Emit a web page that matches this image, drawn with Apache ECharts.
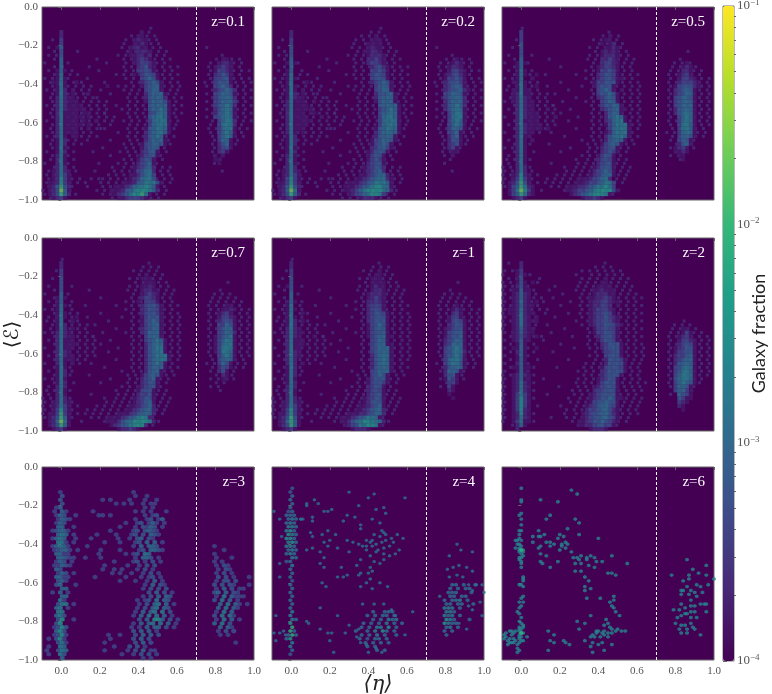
<!DOCTYPE html>
<html>
<head>
<meta charset="utf-8">
<style>
  html, body { margin: 0; background: #fff; }
  #chart { width: 772px; height: 694px; }
</style>
<script src="https://cdn.jsdelivr.net/npm/echarts@6/dist/echarts.min.js"></script>
</head>
<body>
<div id="chart"></div>
<script>
const redshifts = ['z=0.1', 'z=0.2', 'z=0.5', 'z=0.7', 'z=1', 'z=2', 'z=3', 'z=4', 'z=6']
const etaTicks = [0, 0.2, 0.4, 0.6, 0.8, 1.0]
const cutEta = 0.7
const colorbarDecades = [1e-4, 1e-3, 1e-2, 1e-1]
const colorbarMinor = [2e-4, 3e-4, 4e-4, 5e-4, 6e-4, 7e-4, 8e-4, 9e-4, 2e-3, 3e-3, 4e-3, 5e-3, 6e-3, 7e-3, 8e-3, 9e-3, 2e-2, 3e-2, 4e-2, 5e-2, 6e-2, 7e-2, 8e-2, 9e-2]
const colorbarLabels = { '-4': '−4', '-3': '−3', '-2': '−2', '-1': '−1' }
const viridis = ['#440154', '#482878', '#3e4a89', '#31688e', '#26828e', '#1f9e89', '#35b779', '#6ece58', '#b5de2b', '#fde725']

// galaxy fraction for the density digits 1-9 in the rows below
const levelFractions = [0, 1.6e-4, 2.6e-4, 4.6e-4, 8e-4, 1.4e-3, 2.4e-3, 4.5e-3, 9e-3, 2.2e-2]

// one string per row of cells, top to bottom (eps -0.01, -0.03, ...)
// "col:digits": cells start at column col (eta = -0.10 + 0.02 * col), a dot skips a cell
const rowsZ01 = ['', '', '', '', '', '',
  '5:2 26:1', '5:2 25:11', '5:3 24:1211', '5:3 24:1121', '4:15 23:12211', '5:4 23:1 25:2221', '5:4 23:112212',
  '5:5 24:12321 47:11', '5:5 24:123321 46:1221', '5:5 25:23421 45:12321', '4:151 25:33431 45:13321',
  '4:16 24:1 26:34431 45:23431', '4:161 26:34541 45:33441', '3:1161 9:1 26:234541 45:34441', '4:161 17:1 26:134551 45:34542',
  '4:162 8:1 27:34551 45:234542', '4:162 8:1 12:1 27:245551 45:345541', '4:262 7:11 27:245552 45:345552',
  '4:262 7:111 27:1455541 45:345553', '4:262 7:1111 28:455551 45:345652', '4:262 7:11111 28:455651 45:245651',
  '4:261 7:111 11:11 28:345651 45:245651', '4:261 7:1111 12:1 28:456651 45:345651', '4:261 7:111 11:1 14:1 28:356661 46:35662',
  '4:261 7:1111 12:1 28:356661 46:36662', '4:261 7:111 12:1 27:1456651 46:35661', '4:261 7:111 27:2456651 46:35651',
  '4:261 8:11 27:24565 46:35651', '4:162 27:245551 46:3551', '4:162 26:1345541 46:2451', '4:161 26:13454 46:2341',
  '4:162 26:23451 46:231', '4:261 25:123441 45:1 47:1', '4:261 25:13441 45:11', '4:261 25:23451 46:1', '4:262 24:123452',
  '3:12621 24:134562', '3:12631 23:1124563', '3:12731 23:1235664', '2:112731 21:11124566641',
  '2:124842 19:1 20:11235667651', '2:124951 18:1112456777652', '2:124852 18:11234677861', '3:1231 20:11233321']

const rowsZ02 = ['', '', '', '', '', '',
  '5:2', '5:2 27:1', '5:3 26:111', '5:3 25:1111', '5:4 25:1211', '5:4 24:11221', '5:4 25:12221',
  '5:5 25:22321 48:1', '4:151 25:23321 47:121', '5:5 26:23421 46:1221', '4:15 26:33431 46:13321',
  '4:16 26:34431 45:123421', '4:161 26:34441 45:133431', '4:16 9:1 26:234541 45:234431', '4:161 27:34541 45:234541',
  '4:161 8:1 27:34551 45:2344521', '4:162 8:1 27:244551 45:345541', '4:162 7:11 27:245551 45:345552',
  '4:261 7:11 11:1 27:145551 45:245552', '4:261 7:111 28:455551 45:245652', '4:261 7:1111 28:345651 45:245651',
  '4:261 7:11 10:11 28:355651 46:35661', '4:261 7:111 13:1 28:356651 46:35661', '4:261 7:1111 28:356661 46:35651',
  '4:261 7:111 28:356661 46:35651', '4:261 7:11 27:1456651 46:35541', '4:261 8:1 27:2456551 46:3451',
  '4:162 27:245551 46:2451', '4:162 26:1345541 46:2441', '4:162 26:134541 46:2341', '4:161 26:234531 46:231',
  '4:162 25:124441 47:11', '4:261 25:13441 47:1', '4:261 25:13431', '4:261 25:23441', '4:262 24:123442',
  '3:12621 24:123452', '3:12631 23:11234552', '3:13731 22:1123455621', '2:113731 20:111234566651',
  '2:124842 19:1112345677651', '2:125961 19:1123567777652', '2:124852 20:1234567763', '3:1231 23:12221']

const rowsZ05 = ['', '', '', '', '', '',
  '5:3', '5:3 28:1', '5:3 27:11', '5:4 26:1 28:12', '5:4 27:1121', '5:4 26:12121', '5:4 26:12221',
  '5:5 26:22321', '4:151 26:23321 48:1', '4:15 25:123321 47:121', '4:161 25:133431 47:221',
  '4:161 9:1 25:234431 46:1231', '4:16 8:1 25:234431 31:1 46:13321', '3:1161 24:1334441 46:233321',
  '4:161 9:1 24:134441 45:1344421', '3:11611 25:34541 31:1 45:234541', '3:12611 25:344541 45:234551',
  '3:12621 25:234541 45:345541', '3:12621 8:1 26:34551 45:345551', '4:262 7:11 26:344551 45:345551',
  '4:262 7:11 12:1 26:2345511 45:245551', '4:262 7:111 27:24551 45:245651', '4:262 7:111 14:1 27:245651 46:35651',
  '4:261 7:111 27:235661 46:35651', '4:262 7:1111 27:1356661 46:36651', '4:262 7:1111 12:1 28:356661 46:36651',
  '4:262 7:11 27:1256661 46:35651', '4:261 7:1 27:2456651 46:35541', '4:261 8:1 27:245551 46:3541',
  '4:261 26:134541 46:2451', '4:261 26:23441 45:1231', '4:261 26:23431 45:1121', '4:261 25:13441 46:11',
  '4:261 25:23431 47:1', '4:261 25:23441', '4:262 24:124441', '4:262 24:234541', '3:12721 23:1234551',
  '3:13731 20:11 22:1234562', '2:124841 19:11123345663', '2:1358621 17:1112234566763',
  '2:1369731 17:11233456777741', '2:1358621 18:12345677761', '3:1231 21:122321']

const rowsZ07 = ['', '', '', '', '', '',
  '5:2', '5:2', '5:3', '5:3 27:1', '5:4 26:111', '5:4 27:111', '5:4 26:1121', '5:4 26:12211', '5:5 26:12321',
  '4:151 26:23321', '4:15 25:1 27:3331', '4:161 26:234431 48:11', '4:16 26:234431 47:1121', '4:161 26:234431 46:1231',
  '4:161 9:1 26:134441 46:13321', '4:16 8:1 26:134541 46:23431', '4:162 26:134551 46:33541', '4:162 8:1 26:234551 46:34551',
  '4:262 7:1 26:235551 46:34552', '4:262 7:11 27:35551 45:134561', '4:261 7:11 27:345651 45:135661',
  '4:261 7:111 27:245651 45:135661', '4:261 7:11 27:245661 45:136661', '4:262 7:1 27:245661 45:136651',
  '4:262 7:11 27:2456661 46:35651', '4:261 7:11 27:2456661 46:35551', '4:261 8:1 27:245651 46:3541',
  '4:161 27:245551 46:2431', '4:162 27:24551 46:241', '4:162 26:134541 47:21', '4:161 26:23451 47:11', '4:162 26:23441',
  '4:262 25:123441', '4:261 25:13441', '4:261 25:23341', '4:262 24:123441', '3:12621 24:123451', '3:12631 23:1123452',
  '3:13731 22:11234552', '2:113831 20:1112345552', '2:124851 17:11 19:1123456762', '2:125961 17:1112456777762',
  '2:124851 18:1234567772', '3:1231 20:122321']

const rowsZ1 = ['', '', '', '', '', '',
  '5:2', '5:2', '5:3 28:1', '5:3 27:11', '5:4 26:111', '5:4 26:1111', '4:14 26:1211', '5:4 26:1221', '5:5 25:12221',
  '5:5 25:12321', '4:151 25:22321', '4:16 25:23331 48:1', '4:161 25:23431 47:121', '4:16 8:1 25:234431 47:231',
  '4:161 25:234441 46:1331', '4:162 8:1 25:234441 46:13431', '4:162 25:134541 46:23441', '4:262 7:1 25:134541 45:123441',
  '4:262 7:11 25:134451 45:134451', '4:262 7:1 11:1 25:1345511 45:134451', '4:261 7:11 26:34551 45:234551',
  '4:261 7:11 26:345511 45:235551', '4:261 7:1 26:345551 45:345651', '4:262 7:1 26:345551 45:345652',
  '4:262 7:1 26:245651 45:345651', '4:262 26:245651 45:356651', '4:262 8:1 26:245651 45:356641', '4:162 26:245551 45:245551',
  '4:162 26:345551 45:25541', '4:162 26:34541 45:2441', '4:161 25:134441 45:1431', '4:162 25:134431 46:331',
  '4:262 25:23441 46:31', '4:261 25:23431 46:21', '4:261 25:23441 46:1', '4:262 24:123441 47:1', '3:12621 24:124441',
  '3:12631 23:1123451', '3:13731 22:11234552', '2:113731 20:1112234552', '2:124841 18:1 19:1123456651',
  '2:125851 18:112456776652', '2:124851 19:1234667761', '3:1231 21:12221']

const rowsZ2 = ['', '', '', '', '', '',
  '5:2', '5:2', '4:13', '4:131', '4:14 27:1', '4:141 8:1 26:11', '4:241 25:1111', '3:11511 24:112111', '3:12521 24:122211',
  '3:12521 23:1122321', '3:12621 9:1 23:12233211', '3:12521 8:1 23:122332 30:1', '2:112621 23:1233321',
  '2:112621 8:1 23:1233431', '3:12621 9:1 23:12334321', '3:12621 8:11 23:12334321', '3:12621 23:123344321',
  '3:12521 8:1 24:1334331 47:11', '3:12521 8:1 24:1334431 47:131', '3:12421 9:1 25:234431 46:1231',
  '3:12511 25:1 26:34431 46:13321', '4:151 26:234441 46:23431', '3:1151 9:1 26:234441 45:123441', '4:251 27:33441 45:133441',
  '4:151 27:34441 45:233451', '4:151 27:244431 45:234551', '4:251 27:244441 45:245551', '3:11511 26:1344431 45:345651',
  '4:151 26:2344441 45:346651', '3:12521 26:234441 45:356651', '3:12511 25:123441 45:456651', '3:12621 25:134441 45:356541',
  '3:12621 24:1234441 45:35541', '3:12621 24:2334441 45:35531', '3:13631 23:12344441 46:5431', '3:13731 23:123445411 46:4311',
  '3:13731 23:13445441 46:321', '3:13731 22:123455431 46:21', '3:13721 22:233455421 47:1', '3:12721 21:1234455421',
  '3:12621 21:1234455431', '3:13611 20:11234454321', '4:251 20:1122344331', '4:2 23:12221']

// faint speckle around the dense structures, panels z=0.1 and z=0.2
const haloEarly = ['', '', '', '', '',
  '28:2', '26:2.2', '23:2.2.2.2', '3:2 22:2.2.2.2.2', '21:2..2.2.2.2', '2:2 21:2.2.2.2.2.2 43:2', '3:2 9:2 22:2.2.2.2.2.2',
  '2:2.2 20:2.2.2.2.2.2.2 47:2', '3:2 14:2 21:2.2.2.2.2.2.2 45:2.2.2.2', '1:2 7:2 17:2 22:2.2.2.2.2.2 44:2.2.2.2.2',
  '3:2.2 12:2 21:2.2.2.2.2.2.2.2 43:2.2.2.2.2', '2:2 8:2 15:2 22:2.2.2.2.2.2.2 44:2.2.2.2.2.2',
  '3:2 7:2.2 19:2 21:2.2.2.2.2.2.2.2 43:2.2.2.2.2', '1:2.2 7:2 12:2 22:2.2.2.2.2.2.2 44:2.2.2.2.2.2',
  '2:2.2 8:2.2 16:2 23:2.2.2.2.2.2.2 42:2 44:2.2.2.2.2.2', '3:2 7:2.2.2 13:2 20:2 22:2.2.2.2.2.2.2.2 43:2.2.2.2.2.2',
  '1:2.2 8:2.2.2 15:2 21:2.2.2.2.2.2.2.2 44:2.2.2.2.2.2', '3:2.2.2.2.2 12:2 18:2 23:2.2.2.2.2.2.2 43:2.2.2.2.2.2',
  '2:2 7:2.2.2.2 14:2 22:2.2.2.2.2.2.2.2 44:2.2.2.2.2.2', '3:2 7:2.2.2.2.2 17:2 23:2.2.2.2.2.2.2 43:2.2.2.2.2.2',
  '1:2.2 8:2.2.2.2.2 19:2 22:2.2.2.2.2.2.2.2 44:2.2.2.2.2.2', '3:2 7:2.2.2.2.2.2 21:2.2.2.2.2.2.2.2 43:2.2.2.2.2.2',
  '2:2.2 8:2.2.2.2.2 16:2 22:2.2.2.2.2.2.2.2 44:2.2.2.2.2.2', '3:2 7:2.2.2.2.2.2 19:2 23:2.2.2.2.2.2.2 43:2.2.2.2.2.2',
  '1:2 8:2.2.2.2.2.2 21:2.2.2.2.2.2.2.2 44:2.2.2.2.2.2', '3:2.2 7:2.2.2.2.2 18:2 23:2.2.2.2.2.2.2 44:2.2.2.2.2',
  '2:2 8:2.2.2.2.2 15:2 22:2.2.2.2.2.2.2 43:2.2.2.2.2.2', '3:2 7:2.2.2.2 20:2 23:2.2.2.2.2.2 44:2.2.2.2.2',
  '1:2.2 8:2.2.2 14:2 22:2.2.2.2.2.2.2 44:2.2.2.2.2', '3:2 7:2.2 12:2 18:2 23:2.2.2.2.2.2 45:2.2.2.2',
  '2:2 8:2.2 21:2.2.2.2.2.2.2 44:2.2.2.2', '3:2.2 7:2 16:2 22:2.2.2.2.2.2 45:2.2.2',
  '1:2 8:2 13:2 20:2 22:2.2.2.2.2.2 44:2.2.2', '3:2 7:2 18:2 23:2.2.2.2.2 45:2.2', '2:2.2 8:2 21:2.2.2.2.2.2 46:2',
  '1:2 7:2 15:2 20:2.2.2.2.2.2 45:2', '3:2 8:2 18:2 21:2.2.2.2.2.2.2', '0:2.2 7:2.2 14:2 19:2.2.2.2.2.2.2.2 47:2',
  '1:2.2 7:2 17:2.2.2.2.2.2.2.2.2', '0:2.2.2 8:2.2 13:2.2 16:2.2.2.2.2.2.2.2.2.2', '1:2.2 7:2.2 11:2 15:2.2.2.2.2.2.2.2.2.2',
  '0:2.2.2 8:2 12:2 16:2.2.2.2.2.2.2.2.2', '0:2.2 7:2 14:2.2.2.2.2.2.2.2.2.2', '1:2.2.2 9:2 16:2.2.2.2.2.2.2.2.2', '2:2.2 18:2.2.2.2.2.2.2']

// same, panels z=0.5, z=0.7 and z=1
const haloMid = ['', '', '', '', '',
  '5:2', '28:2', '26:2.2.2', '4:2 24:2.2.2.2', '25:2.2.2.2', '3:2 23:2.2.2.2.2', '24:2.2.2.2.2 48:2', '2:2 8:2 23:2.2.2.2.2.2',
  '3:2 12:2 22:2.2.2.2.2.2.2 46:2', '1:2 7:2 24:2.2.2.2.2.2 45:2.2.2', '3:2 15:2 23:2.2.2.2.2.2 44:2.2.2.2',
  '2:2.2 8:2 22:2.2.2.2.2.2.2 44:2.2.2.2.2', '3:2 7:2 11:2 19:2 23:2.2.2.2.2.2.2 43:2.2.2.2.2',
  '1:2.2 8:2 22:2.2.2.2.2.2.2 44:2.2.2.2.2.2', '3:2 7:2.2 15:2 23:2.2.2.2.2.2.2 43:2.2.2.2.2.2',
  '2:2.2 8:2 12:2 21:2 24:2.2.2.2.2.2.2 44:2.2.2.2.2.2', '1:2.2 7:2.2 17:2 23:2.2.2.2.2.2.2 43:2.2.2.2.2.2',
  '3:2.2 8:2.2.2 14:2 24:2.2.2.2.2.2.2 44:2.2.2.2.2.2', '2:2 7:2.2.2 19:2 23:2.2.2.2.2.2.2 43:2.2.2.2.2.2',
  '1:2.2 8:2.2.2 16:2 22:2.2.2.2.2.2.2.2 44:2.2.2.2.2.2', '3:2 7:2.2.2.2 13:2 23:2.2.2.2.2.2.2 43:2.2.2.2.2.2',
  '2:2.2 8:2.2.2.2 18:2 24:2.2.2.2.2.2.2 44:2.2.2.2.2.2', '3:2 7:2.2.2.2 15:2 23:2.2.2.2.2.2.2 43:2.2.2.2.2.2',
  '1:2 8:2.2.2.2 20:2 24:2.2.2.2.2.2.2 44:2.2.2.2.2.2', '3:2 7:2.2.2.2 17:2 23:2.2.2.2.2.2.2 43:2.2.2.2.2.2',
  '2:2.2 8:2.2.2 14:2 24:2.2.2.2.2.2.2 44:2.2.2.2.2.2', '3:2 7:2.2.2 19:2 23:2.2.2.2.2.2.2 44:2.2.2.2.2',
  '1:2 8:2.2 13:2 24:2.2.2.2.2.2 43:2.2.2.2.2.2', '3:2.2 7:2 16:2 23:2.2.2.2.2.2.2 44:2.2.2.2.2',
  '2:2 8:2 21:2 24:2.2.2.2.2.2 44:2.2.2.2', '3:2 7:2 12:2 22:2.2.2.2.2.2.2 45:2.2.2', '1:2.2 18:2 23:2.2.2.2.2.2 44:2.2.2.2',
  '3:2 8:2 15:2 22:2.2.2.2.2.2 45:2.2', '2:2 21:2.2.2.2.2.2 44:2.2', '1:2.2 7:2 19:2 22:2.2.2.2.2.2 46:2',
  '2:2 13:2 20:2.2.2.2.2.2.2', '0:2.2 7:2 16:2 19:2.2.2.2.2.2.2.2', '1:2.2 8:2 17:2.2.2.2.2.2.2.2.2',
  '0:2.2.2 7:2.2 14:2 16:2.2.2.2.2.2.2.2.2', '1:2.2.2 8:2 12:2.2.2.2.2.2.2.2.2.2.2', '0:2.2.2 7:2.2 11:2.2.2.2.2.2.2.2.2.2.2',
  '1:2.2.2 8:2 13:2.2.2.2.2.2.2.2.2', '2:2.2 10:2 16:2.2.2.2.2.2.2.2', '3:2 19:2.2.2.2.2.2']

// same, panel z=2
const haloZ2 = ['', '', '', '', '', '', '2:2 27:2', '24:2.2.2', '1:2.2 21:2.2.2.2.2.2', '0:2 7:2 19:2 23:2.2.2.2.2',
  '2:2.2 10:2 21:2.2.2.2.2.2.2', '0:2.2 9:2 20:2 22:2.2.2.2.2.2', '1:2.2 7:2 14:2 20:2.2.2.2.2.2.2.2', '0:2.2 8:2 12:2 19:2.2.2.2.2.2.2.2',
  '1:2 7:2.2 16:2 21:2.2.2.2.2.2.2.2', '0:2.2 8:2.2 13:2 20:2.2.2.2.2.2.2.2.2', '1:2 8:2 11:2 18:2 21:2.2.2.2.2.2.2.2',
  '0:2.2 7:2.2 15:2 20:2.2.2.2.2.2.2.2.2', '1:2 8:2.2 12:2 21:2.2.2.2.2.2.2.2', '0:2 8:2 11:2 17:2 20:2.2.2.2.2.2.2.2.2',
  '1:2 7:2.2 14:2 21:2.2.2.2.2.2.2.2', '0:2.2 8:2 19:2 22:2.2.2.2.2.2.2.2 47:2', '1:2 7:2.2 12:2 21:2.2.2.2.2.2.2.2 45:2.2.2',
  '0:2 8:2 16:2 22:2.2.2.2.2.2.2.2 44:2.2.2.2', '1:2.2 7:2 13:2 23:2.2.2.2.2.2.2 44:2.2.2.2.2',
  '2:2 8:2.2 18:2 22:2.2.2.2.2.2.2.2 43:2.2.2.2.2.2', '1:2 7:2 11:2 23:2.2.2.2.2.2.2 44:2.2.2.2.2.2',
  '2:2 8:2 15:2 22:2.2.2.2.2.2.2.2 43:2.2.2.2.2.2', '1:2 7:2 19:2 23:2.2.2.2.2.2.2.2 44:2.2.2.2.2.2', '2:2 8:2 13:2 24:2.2.2.2.2.2.2 43:2.2.2.2.2.2',
  '1:2 7:2 23:2.2.2.2.2.2.2.2 44:2.2.2.2.2.2', '2:2 9:2 17:2 24:2.2.2.2.2.2.2 43:2.2.2.2.2.2', '1:2 7:2 22:2.2.2.2.2.2.2.2 44:2.2.2.2.2.2',
  '2:2 8:2 14:2 21:2.2.2.2.2.2.2.2 43:2.2.2.2.2.2', '1:2 7:2 20:2 22:2.2.2.2.2.2.2.2 44:2.2.2.2.2.2', '0:2.2 8:2 21:2.2.2.2.2.2.2.2 43:2.2.2.2.2.2',
  '1:2 7:2 11:2 20:2.2.2.2.2.2.2.2.2 44:2.2.2.2.2', '0:2 8:2 19:2.2.2.2.2.2.2.2.2.2 43:2.2.2.2.2', '1:2 7:2 15:2 20:2.2.2.2.2.2.2.2.2 44:2.2.2.2',
  '0:2 8:2 18:2.2.2.2.2.2.2.2.2.2 45:2.2.2', '1:2 7:2 12:2 19:2.2.2.2.2.2.2.2.2 44:2.2.2', '0:2 8:2 17:2 20:2.2.2.2.2.2.2.2.2 46:2',
  '1:2 7:2 18:2.2.2.2.2.2.2.2.2.2', '0:2 9:2 15:2 19:2.2.2.2.2.2.2.2.2', '1:2 7:2 17:2.2.2.2.2.2.2.2.2.2', '0:2 8:2 16:2 19:2.2.2.2.2.2.2.2.2',
  '1:2 7:2 13:2 17:2.2.2.2.2.2.2.2.2', '0:2 8:2 18:2.2.2.2.2.2.2.2', '3:2 20:2.2.2.2.2.2']

const rowsZ3 = ['', '', '', '', '', '',
  '5:3 24:3', '5:4 27:3 24:3', '5:4 16:3 18:3 23:3 27:3 30:3', '5:4 19:3 21:3 23:3 26:3.3 29:3', '5:5 4:3 27:3.3',
  '3:3 5:5 6:3 13:3 24:3 26:3. 28:3 32:3', '4:354 9:3 15:33 18:3 27:3.34', '4:354 7:3 24:3. 27:34.35',
  '4:354 22:3. 25:34.353 32:3', '4:55 8:3 20:3 24:3.4354 31:3', '3:3455 7:3 18:3 24:34.4543',
  '4:565 8:3. 14:3. 19:3 23:34.4.54 30:3', '3:3565 9:3 13:3 20:3 23:3.45.43', '4:663 8:3. 16:3 20:3. 24:34.5.5.3',
  '3:3565 7:3 12:3 24:3.5.554 45:3', '3:34553 9:3 15:3 20:3 25:34.5543 47:3', '4:553 7:3 15:3. 22:3. 24:34.65 45:3.',
  '4:5543 8:3 11:3 15:3 24:3.554.3 45:3. 49:3', '4:354 8:3 19:3 24:34.3.4 31:3 45:3.3', '3:3354 7:3. 16:3. 22:3 25:3.4.4 45:3.43',
  '4:54 16:3 19:3.3 25:3.4.3 46:3.43', '4:354 8:3 18:3 20:3 23:3 26:3.4.3 45:3.4.3', '4:553 7:3 14:3 22:3 26:3.34.3 46:4.4.3 54:3',
  '4:45 6:3 20:3 24:3 27:3.5.3 45:3.44.4', '4:45 9:3 27:3.5.43 45:4.4.43 54:3', '5:55 26:3 28:4.4.4 45:3.5.4.3 52:3',
  '3:3 5:5 7:3 28:4.5.4.3 45:45.5.4 51:3.', '5:55 26:3. 28:4.5.54 45:3.6.5.3 50:3.3', '5:6 6:3 25:3.3 28:4.6.54 45:4.6.5.3',
  '4:466 8:3 25:3.4. 29:56.5.3 46:5.6.5 51:3.3', '4:56 7:3 25:3.4.5 30:6.54 46:5.6.5 51:3', '4:66 24:3 26:5.56 31:6.4 45:3.6.5.',
  '4:564 24:3. 26:5.6.6 32:5.3 45:4.6.63', '4:47 8:3 25:4.5.77 31:5.4.3 45:3.6.5.3', '4:47 24:3 26:5.56 31:6.5.3 45:5.6.4',
  '3:3474 23:3.3.5.5 30:5.4.3 46:5.53', '4:574 24:4.5.5 30:3. 46:3 48:4.3 50:3', '3:3473 17:3 20:3 24:4.5.5.4 46:3. 48:3',
  '2:3 4:473 18:3. 24:4.5.4.', '4:463 16:3 24:4.5.3 28:3. 50:3', '2:3. 5:65 19:3. 23:4.4.3', '1:3 4:465 16:3 22:3 24:4.5.3 29:3.',
  '2:3. 5:64 21:3. 24:3.4.4.3', '5:5 26:3.3.']

const rowsZ4 = ['', '', '', '', '',
  '5:4', '5:4', '5:5', '5:5', '5:5', '5:5', '4:45', '4:555', '4:565', '4:565', '4:665', '4:675', '4:765', '4:775', '4:675',
  '4:665', '4:565', '4:565', '5:65', '4:45', '5:6', '5:5', '5:5', '5:5', '5:4',
  '5:5 47:55 50:5 53:5', '5:5 46:5 48:5 50:55', '5:5 46:55 48:5 52:5', '5:5 46:55 49:55', '5:5 45:5 47:556 51:5',
  '5:5 45:55 48:55 52:5', '5:5 45:666 49:5', '5:6 26:5 29:55 31:5 45:665', '5:6 25:5 27:5.55 32:5 45:656 49:5',
  '5:65 26:5. 28:5.6 31:56 45:765 51:5', '5:7 24:5 26:5.5.6 32:5.5 45:765 48:5', '5:8 23:5 25:5.66 30:7 32:5 45:56 48:5',
  '5:85 22:5 25:5.6.75 32:5 45:5 47:5', '4:585 23:5 25:5.6.5 32:5 45:5', '4:57 23:5 25:4.55 30:5.', '5:6 24:5 26:5.5 30:5',
  '5:6 25:5 27:5.', '5:5 27:5 29:5', '5:4', '']

// scattered cells of the z=4 panel: eta, -eps in hundredths
const pointsZ4 = [30,13, 43,14, 59,16, 40,16, 12,17, 8,19, 14,19, 48,21, 8,20, 21,22, 19,23, 17,23, 35,20, 44,22, 11,26, 6,27, 5,27, 11,28,
  29,25, 27,28, 33,26, 36,30, 36,32, 42,27, 49,24, 46,29, 48,34, 10,34, 11,36, 16,35, 19,33, 23,35, 20,38, 17,39, 8,43, 11,42, 15,44, 19,41,
  24,42, 29,38, 32,39, 35,40, 37,41, 39,43, 42,41, 44,40, 47,39, 49,38, 52,37, 55,35, 58,37, 56,43, 54,45, 51,46, 48,45, 45,43, 41,46, 43,49,
  46,50, 48,48, 41,52, 36,48, 34,51, 17,47, 15,50, 17,52, 26,52, 30,44, 35,56, 36,55, 40,55, 42,54, 24,57, 27,57, 29,56, 41,58, 39,60, 46,60,
  50,62, 42,63, 36,62, 16,60, 18,62, -6,57, -9,23, -6,27, -5,36, -6,50, 5,27, 15,73, 24,77, 63,75, 8,80, 9,81, 15,84, 21,86, 19,86, 20,90, 22,96,
  28,86, 30,82, 59,87, -8,77, -9,86, -8,90, -6,86, -3,87, -4,85, 46,36, 42,38, 41,39, 44,44, 48,42, 51,41, 53,39, 47,33, 49,35, 43,35, 39,38, 39,41,
  86,40, 82,46, 88,43, 94,44, 81,53, 84,52, 87,51, 91,52, 94,54, 82,57, 86,56, 89,57, 92,61, 96,61, 99,61, 94,64, 100,65, 98,70, 92,72, 94,74,
  99,77, 91,84, 87,81, 77,67, 34,88, 36,91, 39,92, 44,94, 47,96, 40,96, 35,84, 37,71, 43,71, 48,71, 52,74, 54,77]

// occupied cells of the z=6 panel: eta, -eps in hundredths
const pointsZ6 = [0,11, 0,17, 0,18, 0,24, -1,25, 0,27, 0,30, 0,33, -1,33, -1,35, -2,38, -1,37, 0,38, -2,40, -3,38, -1,40, 0,41, -1,42, -3,42, -1,43,
  1,43, -1,44, 0,45, 1,44, -1,47, 0,47, 0,49, 0,50, 0,52, -1,48, 1,46, 1,57, 1,58, 1,59, 0,61, -1,61, 1,62, 1,67, 0,68, 1,70, -1,70, -1,73, 0,72, -2,75, -1,76,
  0,78, -1,80, 0,81, 1,82, -1,83, -1,84, 0,84, 1,83, -1,85, 0,86, -1,87, 1,86, -1,88, 0,88, -1,89, 0,90, 1,90, -1,91, -2,92, -2,94, -1,95, -2,96, 3,88,
  -8,86, -9,87, -8,88, -9,89, -7,90, -7,92, -6,85, -5,85, -5,87, -4,86, -4,89, -3,90, -4,91, -5,91, -3,85, -6,89, -6,91,
  10,17, 19,18, 26,12, 29,14, 15,25, 13,27, 28,27, 30,29, 24,32, 30,35, 40,37, 9,33, 6,36, 9,36, 10,36, 6,39, 12,35, 13,39, 15,39, 17,40, 20,35, 19,37, 22,36,
  21,40, 23,39, 24,40, 21,41, 23,42, 20,43, 15,41, 10,41, 9,42, 10,45, 13,46, 26,44, 27,47, 29,47, 31,46, 30,48, 34,47, 36,46, 38,47, 34,48, 39,49, 42,49, 47,46,
  55,50, 10,49, 11,50, 19,49, 15,52, 28,50, 31,50, 35,51, 38,52, 28,54, 31,54, 33,57, 35,59, 33,62, 36,63, 33,64, 34,68, 41,68, 47,55, 45,55, 49,56, 48,67, 46,70,
  48,69, 47,72, 48,73, 49,75, 51,77, 36,77, 29,80, 33,81, 30,84, 14,85, 17,87, 15,90, 17,91, 22,90, 23,91, 25,92, 14,95, 33,90, 36,88, 38,88, 37,91, 36,93, 37,96,
  39,85, 39,86, 41,88, 40,92, 42,91, 43,95, 44,79, 43,82, 45,81, 46,83, 47,84, 43,85, 45,86, 47,86, 49,85, 50,84, 52,85, 54,85, 47,92, 45,88, 43,87, 40,85, 37,87, 42,86,
  86,48, 78,56, 89,53, 96,51, 87,56, 87,58, 92,55, 96,56, 100,58, 84,59, 97,61, 91,61, 93,62, 86,62, 83,64, 84,64, 88,64, 90,65, 94,65, 83,66, 87,66, 91,67, 83,71,
  88,69, 93,71, 95,71, 96,71, 79,74, 82,74, 85,73, 88,72, 90,72, 83,77, 85,76, 86,76, 88,75, 90,75, 96,75, 88,78, 91,78, 81,78, 80,81, 83,82, 85,82, 88,81, 89,83,
  82,84, 83,86, 86,84, 86,86, 90,84, 93,87]
const hotZ6 = [0,43, 0,86]

const hexSymbol = 'path://M5 0L9.3 2.5V7.5L5 10L.7 7.5V2.5Z'
const panelLefts = [42, 272, 502]
const panelTops = [7, 238, 467]
const panelWidth = 212
const panelHeight = 193
const serif = '"Liberation Serif", "DejaVu Serif", serif'
const mathFont = '"DejaVu Serif", "DejaVu Sans", serif'

// staggered = hexbin layout, odd rows sit half a cell to the right
function cellsFromRows(rows, staggered) {
  const cells = []
  rows.forEach((row, j) => {
    if (!row) return
    const shift = staggered ? (j % 2 ? 0.005 : -0.005) : 0
    row.split(' ').forEach((run) => {
      const [start, digits] = run.split(':')
      ;[...digits].forEach((d, k) => {
        if (d === '.') return
        cells.push([-0.1 + 0.02 * (Number(start) + k) + shift, -0.01 - 0.02 * j, Math.log10(levelFractions[Number(d)])])
      })
    })
  })
  return cells
}

function cellsFromPairs(pairs, level) {
  const cells = []
  for (let i = 0; i < pairs.length; i += 2) {
    cells.push([pairs[i] / 100, -pairs[i + 1] / 100, Math.log10(levelFractions[level])])
  }
  return cells
}

// every panel has a lower layer and an upper layer of cells
const panelLayers = [
  { under: cellsFromRows(haloEarly, true), underSize: 3, over: cellsFromRows(rowsZ01), overSize: 4, symbol: 'rect' },
  { under: cellsFromRows(haloEarly, true), underSize: 3, over: cellsFromRows(rowsZ02), overSize: 4, symbol: 'rect' },
  { under: cellsFromRows(haloMid, true), underSize: 3, over: cellsFromRows(rowsZ05), overSize: 4, symbol: 'rect' },
  { under: cellsFromRows(haloMid, true), underSize: 3, over: cellsFromRows(rowsZ07), overSize: 4, symbol: 'rect' },
  { under: cellsFromRows(haloMid, true), underSize: 3, over: cellsFromRows(rowsZ1), overSize: 4, symbol: 'rect' },
  { under: cellsFromRows(haloZ2, true), underSize: 3, over: cellsFromRows(rowsZ2), overSize: 4, symbol: 'rect' },
  { under: [], underSize: 3, over: cellsFromRows(rowsZ3, true), overSize: 4.8, symbol: hexSymbol },
  { under: cellsFromRows(rowsZ4, true), underSize: 4, over: cellsFromPairs(pointsZ4, 5), overSize: 3.4, symbol: hexSymbol },
  { under: cellsFromPairs(hotZ6, 8), underSize: 3.8, over: cellsFromPairs(pointsZ6, 6).concat(cellsFromPairs(hotZ6, 8)), overSize: 3.8, symbol: hexSymbol }
]

const grids = []
const xAxes = []
const yAxes = []
const titles = []
const series = []

redshifts.forEach((label, idx) => {
  const col = idx % 3
  const row = Math.floor(idx / 3)
  const left = panelLefts[col]
  const top = panelTops[row]
  const layers = panelLayers[idx]
  grids.push({
    left, top, width: panelWidth, height: panelHeight, outerBoundsMode: 'none',
    show: true, backgroundColor: '#440154', borderColor: '#666', borderWidth: 1
  })
  xAxes.push({
    gridIndex: idx, type: 'value', min: -0.1, max: 1.0,
    splitLine: { show: false },
    axisLine: { show: false },
    axisTick: { show: true, customValues: etaTicks, length: 3, lineStyle: { color: '#666' } },
    axisLabel: {
      show: row === 2, customValues: etaTicks, color: '#555', fontFamily: serif, fontSize: 11, margin: 6,
      formatter: (v) => v.toFixed(1)
    },
    name: idx === 7 ? '⟨η⟩' : '',
    nameLocation: 'middle', nameGap: 14, nameMoveOverlap: false,
    nameTextStyle: { color: '#222', fontFamily: mathFont, fontSize: 21, fontStyle: 'italic' }
  })
  yAxes.push({
    gridIndex: idx, type: 'value', min: -1, max: 0, interval: 0.2,
    splitLine: { show: false },
    axisLine: { show: false },
    axisTick: { show: true, length: 3, lineStyle: { color: '#666' } },
    axisLabel: {
      show: col === 0, color: '#555', fontFamily: serif, fontSize: 11, margin: 4,
      formatter: (v) => v.toFixed(1).replace('-', '−')
    },
    name: idx === 3 ? '⟨ℰ⟩' : '',
    nameLocation: 'middle', nameGap: 19, nameMoveOverlap: false,
    nameTextStyle: { color: '#222', fontFamily: mathFont, fontSize: 20 }
  })
  titles.push({
    text: label, right: 772 - (left + panelWidth - 9), top: top + 8, padding: 0,
    textStyle: { color: '#fff', fontFamily: serif, fontSize: 15, fontWeight: 'normal' }
  })
  series.push({
    type: 'scatter', xAxisIndex: idx, yAxisIndex: idx, data: layers.under,
    symbol: layers.symbol, symbolSize: layers.underSize, clip: true, silent: true
  })
  series.push({
    type: 'scatter', xAxisIndex: idx, yAxisIndex: idx, data: layers.over,
    symbol: layers.symbol, symbolSize: layers.overSize, clip: true, silent: true,
    markLine: {
      silent: true, symbol: 'none', animation: false,
      label: { show: false },
      lineStyle: { color: '#fff', type: [3, 2], width: 1 },
      data: [{ xAxis: cutEta }]
    }
  })
})

// colorbar axes: one grid, decades on one axis and the minor ticks on the other
grids.push({ left: 723, top: 6, width: 11, height: 655, outerBoundsMode: 'none', show: true, borderColor: '#777', borderWidth: 1 })
xAxes.push({ gridIndex: 9, type: 'value', show: false })
yAxes.push({
  gridIndex: 9, type: 'log', logBase: 10, min: 1e-4, max: 1e-1, position: 'right',
  splitLine: { show: false },
  axisLine: { show: false },
  axisTick: { show: true, customValues: colorbarDecades, length: 4, lineStyle: { color: '#666' } },
  axisLabel: {
    customValues: colorbarDecades, color: '#555', fontFamily: serif, margin: 3,
    formatter: (v) => '{n|10}{s|' + colorbarLabels[Math.round(Math.log10(v))] + '}',
    rich: {
      n: { fontFamily: serif, fontSize: 13, color: '#555' },
      s: { fontFamily: serif, fontSize: 9, color: '#555', padding: [0, 0, 7, 0] }
    }
  },
  name: 'Galaxy fraction', nameLocation: 'middle', nameGap: 16, nameRotate: 90, nameMoveOverlap: false,
  nameTextStyle: { color: '#222', fontFamily: '"Lato", sans-serif', fontSize: 18 }
})
yAxes.push({
  gridIndex: 9, type: 'log', logBase: 10, min: 1e-4, max: 1e-1, position: 'right',
  splitLine: { show: false },
  axisLine: { show: false },
  axisTick: { show: true, customValues: colorbarMinor, length: 2, lineStyle: { color: '#666' } },
  axisLabel: { show: false }
})

const chart = echarts.init(document.getElementById('chart'))
chart.setOption({
  animation: false,
  backgroundColor: '#fff',
  title: titles,
  grid: grids,
  xAxis: xAxes,
  yAxis: yAxes,
  visualMap: {
    type: 'continuous', min: -4, max: -1, dimension: 2,
    seriesIndex: series.map((s, i) => i),
    inRange: { color: viridis },
    left: 723, top: 6, itemWidth: 11, itemHeight: 655, padding: 0,
    text: ['', ''], calculable: false, hoverLink: false, showLabel: false
  },
  series
})
</script>
</body>
</html>
